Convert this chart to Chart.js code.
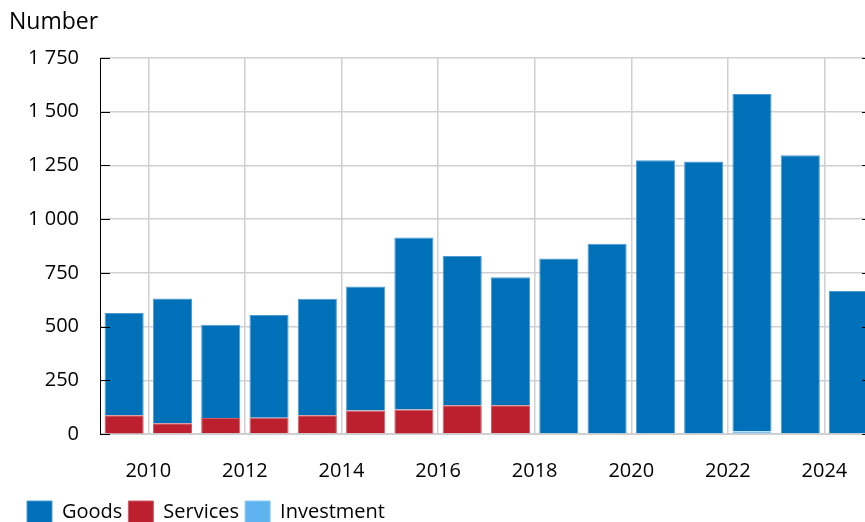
<!DOCTYPE html>
<html>
<head>
<meta charset="utf-8">
<script src="https://cdn.jsdelivr.net/npm/chart.js@4.4.1/dist/chart.umd.min.js"></script>
<style>
  html, body { margin: 0; padding: 0; background: #fff; overflow: hidden; }
</style>
</head>
<body>
<canvas id="myChart" width="865" height="522"></canvas>
<script>
// Datos del gráfico (número por año)
const years = [2009, 2010, 2011, 2012, 2013, 2014, 2015, 2016, 2017, 2018, 2019, 2020, 2021, 2022, 2023, 2024];
const goods = [476, 581, 434, 478, 542, 577, 801, 695, 595, 817, 885, 1274, 1268, 1569, 1297, 666];
const services = [85, 50, 75, 76, 87, 106, 112, 134, 134, 0, 0, 0, 0, 0, 0, 0];
const investment = [2, 0, 0, 0, 0, 3, 2, 0, 0, 0, 0, 0, 0, 13, 0, 0];
const tickYears = [2010, 2012, 2014, 2016, 2018, 2020, 2022, 2024];
const yTicks = [0, 250, 500, 750, 1000, 1250, 1500, 1750];

// Cada barra ocupa el año completo (centrada a mitad de año)
const toPoints = arr => arr.map((v, i) => ({ x: years[i] + 0.5, y: v }));
const fmt = v => String(v).replace(/\B(?=(\d{3})+(?!\d))/g, ' ');

Chart.defaults.font.family = "'Open Sans', sans-serif";
Chart.defaults.color = '#000';

// Título "Number" y marcas de los ejes hacia dentro
const axisExtras = {
  id: 'axisExtras',
  afterDatasetsDraw(chart) {
    const { ctx, chartArea, scales } = chart;
    ctx.save();
    ctx.strokeStyle = '#000';
    ctx.lineWidth = 1;
    yTicks.forEach(v => {
      const y = Math.round(scales.y.getPixelForValue(v)) + 0.5;
      ctx.beginPath();
      ctx.moveTo(chartArea.left, y);
      ctx.lineTo(chartArea.left + 10, y);
      ctx.moveTo(chartArea.right - 3, y);
      ctx.lineTo(chartArea.right, y);
      ctx.stroke();
    });
    ctx.fillStyle = '#000';
    ctx.font = "23px 'Open Sans', sans-serif";
    ctx.textBaseline = 'middle';
    ctx.textAlign = 'left';
    ctx.fillText('Number', 9, 22);
    ctx.restore();
  }
};

const ctx = document.getElementById('myChart').getContext('2d');
const myChart = new Chart(ctx, {
  type: 'bar',
  data: {
    datasets: [
      { label: 'Investment', data: toPoints(investment), backgroundColor: '#5eb4ef', borderColor: '#8ccaf4', borderWidth: 1 },
      { label: 'Services', data: toPoints(services), backgroundColor: '#bc1f2e', borderColor: '#cf5a66', borderWidth: 1 },
      { label: 'Goods', data: toPoints(goods), backgroundColor: '#0070b8', borderColor: '#4d9ad5', borderWidth: 1 }
    ]
  },
  options: {
    responsive: false,
    animation: false,
    layout: { padding: { left: 21, right: 0, top: 58, bottom: -11 } },
    datasets: { bar: { barPercentage: 0.81, categoryPercentage: 1 } },
    scales: {
      x: {
        type: 'linear',
        stacked: true,
        min: 2009,
        max: 2024.84,
        offset: false,
        afterBuildTicks: s => { s.ticks = tickYears.map(v => ({ value: v })); },
        afterFit: s => { s.height = 61; s.paddingLeft = 0; s.paddingRight = 0; },
        grid: { color: '#d0d0d0', lineWidth: 1.5, drawTicks: false, offset: false },
        border: { color: '#d0d0d0' },
        ticks: { font: { size: 20 }, color: '#000', padding: 25, maxRotation: 0, autoSkip: false, callback: v => String(v) }
      },
      y: {
        stacked: true,
        min: 0,
        max: 1750,
        afterFit: s => { s.width = 79; },
        grid: { color: '#d0d0d0', lineWidth: 1.5, drawTicks: false },
        border: { color: '#000' },
        ticks: { stepSize: 250, padding: 21, font: { size: 20 }, color: '#000', callback: v => fmt(v) }
      }
    },
    plugins: {
      legend: {
        position: 'bottom',
        align: 'start',
        reverse: true,
        labels: { boxWidth: 25, boxHeight: 22, padding: 6, font: { size: 20 }, color: '#000' }
      },
      tooltip: { enabled: false }
    }
  },
  plugins: [axisExtras]
});
</script>
</body>
</html>
